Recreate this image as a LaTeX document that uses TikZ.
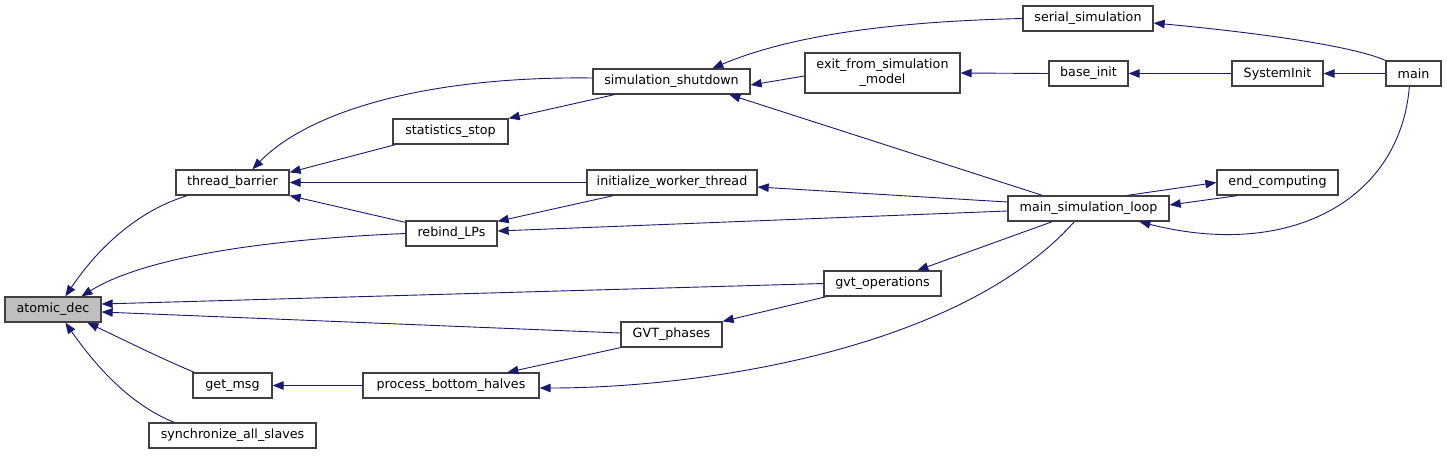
\documentclass[tikz,border=0pt]{standalone}
\usepackage{fontspec}
\setmainfont{DejaVu Sans}
\usetikzlibrary{arrows.meta}
\definecolor{edgecol}{RGB}{25,25,112}
\definecolor{boxline}{RGB}{64,64,64}
\definecolor{hilite}{RGB}{191,191,191}
\tikzset{
  fn/.style={draw=boxline, line width=1.3pt, fill=white, inner sep=0pt, align=center,
    font=\fontsize{12.7}{15}\selectfont, text=black},
  edge/.style={draw=edgecol, line width=0.9pt, -{Triangle[length=11pt,width=8.5pt]}},
}
\begin{document}
\begin{tikzpicture}[x=1pt,y=-1pt]
\useasboundingbox (0,0) rectangle (1447,455);
% nodes
\node[fn, fill=hilite, minimum width=96pt, minimum height=25pt] (atomic) at (53,309.5) {atomic\_dec};
\node[fn, minimum width=113pt, minimum height=25pt] (tb) at (232.5,182.5) {thread\_barrier};
\node[fn, minimum width=79pt, minimum height=25pt] (getmsg) at (232.5,385.5) {get\_msg};
\node[fn, minimum width=167pt, minimum height=25pt] (sync) at (232.5,435.5) {synchronize\_all\_slaves};
\node[fn, minimum width=115pt, minimum height=25pt] (stats) at (450.5,131.5) {statistics\_stop};
\node[fn, minimum width=91pt, minimum height=25pt] (rebind) at (451.5,233.5) {rebind\_LPs};
\node[fn, minimum width=176pt, minimum height=25pt] (pbh) at (451,385.5) {process\_bottom\_halves};
\node[fn, minimum width=157pt, minimum height=25pt] (sim) at (671.5,81.5) {simulation\_shutdown};
\node[fn, minimum width=170pt, minimum height=25pt] (iwt) at (672,182.5) {initialize\_worker\_thread};
\node[fn, minimum width=101pt, minimum height=25pt] (gvtph) at (671.5,334.5) {GVT\_phases};
\node[fn, minimum width=155pt, minimum height=40pt] (exit) at (882.5,73) {exit\_from\_simulation\\\_model};
\node[fn, minimum width=117pt, minimum height=25pt] (gvtop) at (882.5,283.5) {gvt\_operations};
\node[fn, minimum width=130pt, minimum height=25pt] (serial) at (1088,18.5) {serial\_simulation};
\node[fn, minimum width=79pt, minimum height=25pt] (base) at (1088.5,73.5) {base\_init};
\node[fn, minimum width=161pt, minimum height=25pt] (msl) at (1088.5,208.5) {main\_simulation\_loop};
\node[fn, minimum width=91pt, minimum height=25pt] (sysinit) at (1277.5,73.5) {SystemInit};
\node[fn, minimum width=121pt, minimum height=25pt] (endc) at (1277.5,182.5) {end\_computing};
\node[fn, minimum width=55pt, minimum height=25pt] (main) at (1413.5,73.5) {main};
% edges (caller -> callee, arrowhead at callee)
\draw[edge] ([xshift=12pt]tb.south west) .. controls (140,210) and (100,245) .. ([xshift=61pt]atomic.north west);
\draw[edge] (rebind.west) .. controls (250,240) and (140,260) .. ([xshift=77pt]atomic.north west);
\draw[edge] (gvtop.west) -- ([yshift=5.5pt]atomic.east);
\draw[edge] ([yshift=1.5pt]gvtph.west) -- ([yshift=-2.5pt]atomic.east);
\draw[edge] ([xshift=2pt]getmsg.north west) .. controls (160,358) and (120,338) .. ([xshift=83pt]atomic.south west);
\draw[edge] ([xshift=26pt]sync.north west) .. controls (130,405) and (95,365) .. ([xshift=61pt]atomic.south west);
\draw[edge] ([yshift=3.5pt]sim.west) .. controls (430,76) and (310,110) .. ([xshift=77pt]tb.north west);
\draw[edge] ([xshift=3pt]stats.south west) -- ([yshift=-3pt]tb.north east);
\draw[edge] (iwt.west) -- (tb.east);
\draw[edge] ([yshift=-2pt]rebind.north west) -- (tb.south east);
\draw[edge] (serial.west) .. controls (870,22) and (780,40) .. ([xshift=120pt]sim.north west);
\draw[edge] ([yshift=-3pt]exit.west) -- ([yshift=-3.5pt]sim.east);
\draw[edge] ([xshift=35pt]msl.north west) -- ([xshift=137pt]sim.south west);
\draw[edge] ([xshift=22pt]sim.south west) -- (stats.north east);
\draw[edge] (base.west) -- (exit.east);
\draw[edge] (sysinit.west) -- (base.east);
\draw[edge] (main.west) -- (sysinit.east);
\draw[edge] (main.north west) .. controls (1350,45) and (1250,32) .. ([yshift=-4.5pt]serial.east);
\draw[edge] ([yshift=6.5pt]msl.west) -- ([yshift=-4.5pt]iwt.east);
\draw[edge] ([xshift=27pt]iwt.south west) -- ([yshift=-1pt]rebind.north east);
\draw[edge] ([yshift=-2.5pt]msl.west) -- ([yshift=2.5pt]rebind.east);
\draw[edge] ([xshift=21pt]endc.south west) -- ([yshift=3.5pt]msl.east);
\draw[edge] ([xshift=120pt]msl.north west) -- (endc.west);
\draw[edge] ([xshift=24pt]main.south west) .. controls (1400,200) and (1290,260) .. ([xshift=132pt]msl.south west);
\draw[edge] ([xshift=45pt]msl.south west) -- ([xshift=94pt]gvtop.north west);
\draw[edge] ([xshift=3pt]gvtop.south west) -- (gvtph.north east);
\draw[edge] (gvtph.south west) -- ([xshift=145pt]pbh.north west);
\draw[edge] ([xshift=67pt]msl.south west) .. controls (960,350) and (700,388) .. ([yshift=-2.5pt]pbh.east);
\draw[edge] (pbh.west) -- (getmsg.east);
\end{tikzpicture}
\end{document}
